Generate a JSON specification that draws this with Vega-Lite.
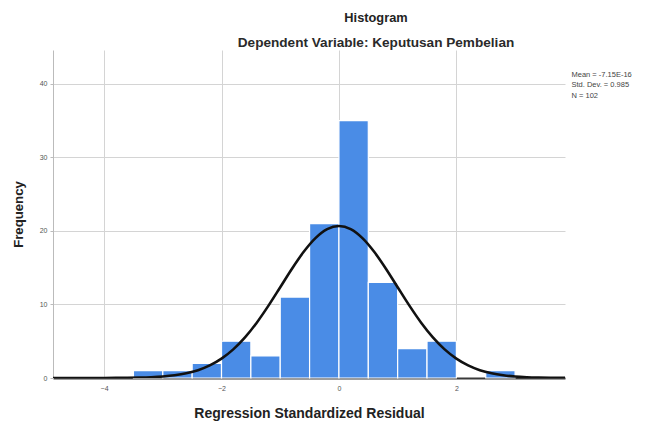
{
  "$schema": "https://vega.github.io/schema/vega-lite/v6.json",
  "width": 512,
  "height": 328,
  "autosize": "none",
  "padding": {"left": 53, "top": 50, "right": 81, "bottom": 47},
  "background": "white",
  "config": {
    "font": "Liberation Sans",
    "view": {"stroke": null},
    "axis": {"labelFont": "Liberation Sans", "titleFont": "Liberation Sans"}
  },
  "title": {
    "text": "Histogram",
    "subtitle": "Dependent Variable: Keputusan Pembelian",
    "anchor": "middle",
    "frame": "group",
    "dx": 67,
    "fontSize": 12.8,
    "fontWeight": "bold",
    "color": "#222222",
    "subtitleFontSize": 13.6,
    "subtitleFontWeight": "bold",
    "subtitleColor": "#2a2a2a",
    "subtitlePadding": 12,
    "offset": 0
  },
  "datasets": {
    "bins": [
      {"bin_start": -3.5, "bin_end": -3.0, "count": 1},
      {"bin_start": -3.0, "bin_end": -2.5, "count": 1},
      {"bin_start": -2.5, "bin_end": -2.0, "count": 2},
      {"bin_start": -2.0, "bin_end": -1.5, "count": 5},
      {"bin_start": -1.5, "bin_end": -1.0, "count": 3},
      {"bin_start": -1.0, "bin_end": -0.5, "count": 11},
      {"bin_start": -0.5, "bin_end": 0.0, "count": 21},
      {"bin_start": 0.0, "bin_end": 0.5, "count": 35},
      {"bin_start": 0.5, "bin_end": 1.0, "count": 13},
      {"bin_start": 1.0, "bin_end": 1.5, "count": 4},
      {"bin_start": 1.5, "bin_end": 2.0, "count": 5},
      {"bin_start": 2.5, "bin_end": 3.0, "count": 1}
    ],
    "curve": [
      {"x": -4.87, "y": 0.0001},
      {"x": -4.6, "y": 0.0004},
      {"x": -4.4, "y": 0.0009},
      {"x": -4.2, "y": 0.0023},
      {"x": -4.0, "y": 0.005},
      {"x": -3.8, "y": 0.012},
      {"x": -3.6, "y": 0.026},
      {"x": -3.4, "y": 0.0535},
      {"x": -3.2, "y": 0.106},
      {"x": -3.0, "y": 0.2},
      {"x": -2.8, "y": 0.364},
      {"x": -2.6, "y": 0.634},
      {"x": -2.4, "y": 1.06},
      {"x": -2.2, "y": 1.71},
      {"x": -2.0, "y": 2.63},
      {"x": -1.8, "y": 3.89},
      {"x": -1.6, "y": 5.52},
      {"x": -1.4, "y": 7.52},
      {"x": -1.2, "y": 9.84},
      {"x": -1.0, "y": 12.34},
      {"x": -0.8, "y": 14.86},
      {"x": -0.6, "y": 17.16},
      {"x": -0.4, "y": 19.02},
      {"x": -0.2, "y": 20.24},
      {"x": 0.0, "y": 20.66},
      {"x": 0.2, "y": 20.24},
      {"x": 0.4, "y": 19.02},
      {"x": 0.6, "y": 17.16},
      {"x": 0.8, "y": 14.86},
      {"x": 1.0, "y": 12.34},
      {"x": 1.2, "y": 9.84},
      {"x": 1.4, "y": 7.52},
      {"x": 1.6, "y": 5.52},
      {"x": 1.8, "y": 3.89},
      {"x": 2.0, "y": 2.63},
      {"x": 2.2, "y": 1.71},
      {"x": 2.4, "y": 1.06},
      {"x": 2.6, "y": 0.634},
      {"x": 2.8, "y": 0.364},
      {"x": 3.0, "y": 0.2},
      {"x": 3.2, "y": 0.106},
      {"x": 3.4, "y": 0.0535},
      {"x": 3.6, "y": 0.026},
      {"x": 3.85, "y": 0.011}
    ],
    "stats": [
      {"stat": "Mean = -7.15E-16"},
      {"stat": "Std. Dev. = 0.985"},
      {"stat": "N = 102"}
    ]
  },
  "layer": [
    {
      "data": {"name": "bins"},
      "mark": {"type": "rect", "fill": "#4a8ce6", "stroke": "white", "strokeWidth": 1.2},
      "encoding": {
        "x": {
          "field": "bin_start",
          "type": "quantitative",
          "scale": {"domain": [-4.87, 3.85], "nice": false, "zero": false},
          "axis": {
            "values": [-4, -2, 0, 2],
            "format": "d",
            "title": "Regression Standardized Residual",
            "titleFontSize": 14,
            "titleFontWeight": "bold",
            "titleColor": "#222222",
            "titlePadding": 15,
            "labelFontSize": 7,
            "labelColor": "#555555",
            "labelPadding": 6,
            "ticks": false,
            "grid": true,
            "gridColor": "#d4d4d4",
            "gridWidth": 1,
            "domainColor": "#3a3a3a",
            "domainWidth": 2.2
          }
        },
        "x2": {"field": "bin_end"},
        "y": {
          "field": "count",
          "type": "quantitative",
          "scale": {"domain": [0, 44.6], "nice": false},
          "axis": {
            "values": [0, 10, 20, 30, 40],
            "title": "Frequency",
            "titleFontSize": 13.2,
            "titleFontWeight": "bold",
            "titleColor": "#222222",
            "titlePadding": 14,
            "labelFontSize": 7,
            "labelColor": "#555555",
            "labelPadding": 3,
            "tickSize": 3,
            "tickColor": "#bbbbbb",
            "grid": true,
            "gridColor": "#d4d4d4",
            "gridWidth": 1,
            "domainColor": "#bbbbbb",
            "domainWidth": 1
          }
        },
        "y2": {"datum": 0}
      }
    },
    {
      "data": {"name": "curve"},
      "mark": {"type": "line", "color": "#111111", "strokeWidth": 2.6, "interpolate": "monotone", "clip": true},
      "encoding": {
        "x": {"field": "x", "type": "quantitative"},
        "y": {"field": "y", "type": "quantitative"}
      }
    },
    {
      "data": {"name": "stats"},
      "mark": {"type": "point", "opacity": 0},
      "encoding": {
        "color": {
          "field": "stat",
          "type": "nominal",
          "scale": {"domain": ["Mean = -7.15E-16", "Std. Dev. = 0.985", "N = 102"], "range": ["#333333", "#333333", "#333333"]},
          "legend": {
            "title": null,
            "orient": "none",
            "legendX": 511,
            "legendY": 21,
            "symbolSize": 0,
            "symbolStrokeWidth": 0,
            "symbolOpacity": 0,
            "labelFontSize": 7.5,
            "labelColor": "#444444",
            "labelOffset": 0,
            "rowPadding": 1.5,
            "padding": 0
          }
        }
      }
    }
  ]
}
